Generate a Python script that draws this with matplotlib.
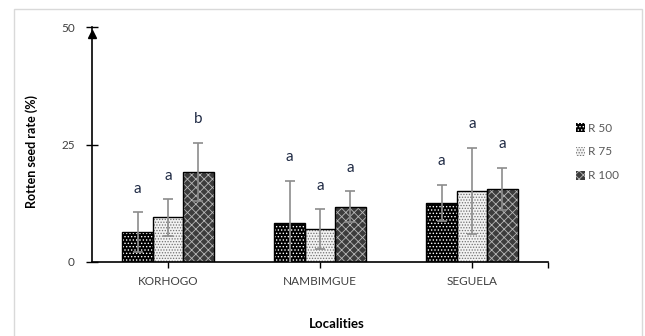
import matplotlib
matplotlib.use("Agg")
import matplotlib.pyplot as plt
import matplotlib.patches as patches
import numpy as np

plt.rcParams['font.family'] = ['Lato', 'DejaVu Sans']
plt.rcParams['hatch.linewidth'] = 0.6

# --- data ---
localities = ["KORHOGO", "NAMBIMGUE", "SEGUELA"]
series_names = ["R 50", "R 75", "R 100"]
r50 = [6.4, 8.4, 12.6]
r75 = [9.5, 7.0, 15.1]
r100 = [19.2, 11.8, 15.6]
r50_err = [4.2, 8.9, 3.8]
r75_err = [3.9, 4.2, 9.2]
r100_err = [6.2, 3.3, 4.5]
letters_r50 = ["a", "a", "a"]
letters_r75 = ["a", "a", "a"]
letters_r100 = ["b", "a", "a"]
yticks = [0, 25, 50]

values = [r50, r75, r100]
errors = [r50_err, r75_err, r100_err]
letters = [letters_r50, letters_r75, letters_r100]

# face colour, hatch, hatch colour
styles = [("black", ".....", "white"),
          ("#f2f2f2", "......", "#707070"),
          ("#3c3c3c", "xxxx", "#b8b8b8")]

fig = plt.figure(figsize=(6.45, 3.36), dpi=100)
ax = fig.add_axes([92 / 645, 74 / 336, 456 / 645, 235 / 336])

x = np.arange(len(localities))
width = 0.2
handles = []
for i, (vals, errs, labs) in enumerate(zip(values, errors, letters)):
    face, hatch, hcol = styles[i]
    pos = x + (i - 1) * width
    bars = ax.bar(pos, vals, width, facecolor=face, edgecolor=hcol, hatch=hatch,
                  linewidth=0, zorder=2)
    ax.bar(pos, vals, width, fill=False, edgecolor="black", linewidth=1.0, zorder=3)
    ax.errorbar(pos, vals, yerr=errs, fmt="none", ecolor="#8c8c8c",
                elinewidth=1.2, capsize=3.5, capthick=1.2, zorder=4)
    for p, v, e, t in zip(pos, vals, errs, labs):
        ax.text(p, v + e + 5, t, ha="center", va="center", fontsize=11,
                color="#1f2a44", zorder=5)
    handles.append(bars[0])

ax.set_xlim(-0.5, 2.5)
ax.set_ylim(0, 50)
ax.set_yticks(yticks)
ax.set_xticks(list(x) + [2.5])
ax.set_xticklabels(localities + [""])
ax.tick_params(axis="x", direction="out", length=4, width=1, pad=6,
               labelsize=8.5, labelcolor="#404040")
ax.tick_params(axis="y", direction="inout", length=9, width=1, pad=8,
               labelsize=8.5, labelcolor="#404040")
for s in ["top", "right"]:
    ax.spines[s].set_visible(False)
ax.spines["left"].set_linewidth(1.2)
ax.spines["bottom"].set_linewidth(1.2)

# arrow at the top of the y axis
ax.plot([-0.5], [48.6], marker="^", markersize=6, color="black", clip_on=False, zorder=6)

ax.set_ylabel("Rotten seed rate (%)", fontsize=9, fontweight="bold")
ax.yaxis.set_label_coords(-0.118, 0.47)
ax.set_xlabel("Localities", fontsize=9.5, fontweight="bold")
ax.xaxis.set_label_coords(0.537, -0.238)

leg = fig.legend(handles, series_names, loc="center left",
                 bbox_to_anchor=(570 / 645, 1 - 152 / 336), frameon=False,
                 handlelength=0.8, handleheight=0.8, handletextpad=0.2,
                 labelspacing=1.1, borderpad=0, fontsize=8.5)
for t in leg.get_texts():
    t.set_color("#595959")

# light frame around the chart area
fig.add_artist(patches.Rectangle((14 / 645, -0.01), 628 / 645, 1 - 9 / 336 + 0.01,
                                 transform=fig.transFigure, fill=False,
                                 edgecolor="#d9d9d9", linewidth=1))

fig.savefig("out.png", dpi=100)
